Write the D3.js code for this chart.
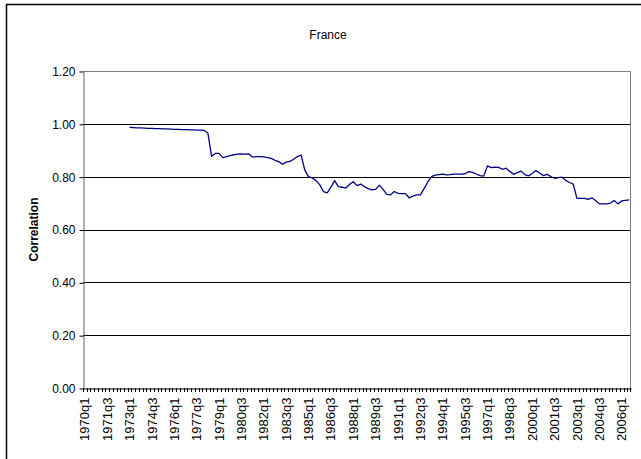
<!DOCTYPE html>
<html lang="en">

<head>
  <meta charset="UTF-8">
  <script src="https://cdn.jsdelivr.net/npm/d3@7"></script>
  <title>France</title>
  <style>
    body {
      margin: 0;
      background: white;
    }

    text {
      font-family: Arial, 'Liberation Sans', sans-serif;
      font-size: 12px;
      fill: black;
    }

    .title {
      text-anchor: middle;
    }

    .label {
      text-anchor: middle;
      font-weight: bold;
    }
  </style>
</head>

<body>
  <script>
    // quarters 1970q1 .. 2006q3
    const years = d3.range(1970, 2007);
    const quarters = ['q1', 'q2', 'q3', 'q4'];
    const categories = years.flatMap(y => quarters.map(q => y + q)).slice(0, 147);

    // series starts at 1973q1
    const firstQuarter = '1973q1';
    const correlation = [
      0.987, 0.986, 0.985, 0.985, 0.984, 0.983, 0.983, 0.982, 0.982, 0.981,
      0.981, 0.980, 0.979, 0.979, 0.978, 0.978, 0.977, 0.977, 0.976, 0.976,
      0.975, 0.965, 0.877, 0.888, 0.888, 0.872, 0.876, 0.880, 0.883, 0.885,
      0.886, 0.885, 0.886, 0.874, 0.876, 0.876, 0.875, 0.872, 0.869, 0.862,
      0.857, 0.847, 0.855, 0.858, 0.866, 0.876, 0.882, 0.825, 0.800, 0.795,
      0.785, 0.770, 0.743, 0.739, 0.760, 0.785, 0.762, 0.760, 0.757, 0.770,
      0.781, 0.766, 0.772, 0.762, 0.755, 0.750, 0.752, 0.768, 0.752, 0.733,
      0.731, 0.744, 0.737, 0.736, 0.736, 0.720, 0.726, 0.731, 0.731, 0.755,
      0.780, 0.800, 0.806, 0.808, 0.810, 0.807, 0.808, 0.810, 0.810, 0.810,
      0.811, 0.819, 0.816, 0.810, 0.804, 0.802, 0.841, 0.834, 0.836, 0.835,
      0.828, 0.832, 0.820, 0.809, 0.815, 0.821, 0.808, 0.803, 0.812, 0.823,
      0.814, 0.804, 0.809, 0.800, 0.794, 0.796, 0.798, 0.786, 0.778, 0.772,
      0.718, 0.718, 0.718, 0.714, 0.720, 0.710, 0.697, 0.697, 0.697, 0.700,
      0.710, 0.697, 0.708, 0.710, 0.712
    ];
    const yTicks = [0, 0.2, 0.4, 0.6, 0.8, 1.0, 1.2];
    const labelEvery = 6;

    const width = 641, height = 459;
    const plotL = 83, plotR = 631, plotT = 71, plotB = 388;

    const svg = d3.select('body').append('svg').attr('width', width).attr('height', height);

    // outer chart frame (runs off the picture on the right and bottom)
    svg.append('rect').attr('x', 6.5).attr('y', 4.5).attr('width', 700).attr('height', 500)
      .attr('fill', 'white').attr('stroke', 'black').attr('stroke-width', 1.5);

    const x = d3.scaleBand().domain(categories).range([plotL, plotR]).padding(0);
    const y = d3.scaleLinear().domain([0, 1.2]).range([plotB, plotT]);

    // gridlines
    svg.append('g').selectAll('line').data(yTicks.slice(1, -1)).enter().append('line')
      .attr('x1', plotL).attr('x2', plotR)
      .attr('y1', d => Math.round(y(d)) + 0.5).attr('y2', d => Math.round(y(d)) + 0.5)
      .attr('stroke', 'black').attr('stroke-width', 1);

    // plot area border top/right
    svg.append('path')
      .attr('d', `M${plotL},${plotT + 0.5}H${plotR - 0.5}V${plotB}`)
      .attr('fill', 'none').attr('stroke', '#808080').attr('stroke-width', 1);

    // y axis
    const axisY = d3.axisLeft(y).tickValues(yTicks).tickFormat(d3.format('.2f'))
      .tickSize(4).tickPadding(4).tickSizeOuter(0);
    const gy = svg.append('g').attr('transform', `translate(${plotL + 0.5},0.5)`).call(axisY);
    gy.select('.domain').attr('stroke', '#606060');
    gy.selectAll('.tick line').attr('stroke', 'black');
    gy.selectAll('.tick text').style('font-size', '12px').attr('fill', 'black');

    // x axis labels
    const axisX = d3.axisBottom(x)
      .tickValues(categories.filter((d, i) => i % labelEvery === 0))
      .tickSize(0).tickSizeOuter(0);
    const gx = svg.append('g').attr('transform', `translate(0,${plotB + 0.5})`).call(axisX);
    gx.select('.domain').attr('stroke', 'black');
    gx.selectAll('.tick text')
      .attr('transform', 'rotate(-90)')
      .attr('x', -9).attr('y', 0).attr('dy', '0.35em')
      .attr('text-anchor', 'end')
      .style('font-size', '13px').attr('fill', 'black');

    // x tick marks at category boundaries
    svg.append('g').selectAll('line').data(categories.concat(['end'])).enter().append('line')
      .attr('x1', d => d === 'end' ? plotR - 0.5 : Math.round(x(d)) + 0.5)
      .attr('x2', d => d === 'end' ? plotR - 0.5 : Math.round(x(d)) + 0.5)
      .attr('y1', plotB).attr('y2', plotB + 4)
      .attr('stroke', 'black').attr('stroke-width', 1);

    // series
    const start = categories.indexOf(firstQuarter);
    const series = correlation.map((v, i) => ({ q: categories[start + i], v: v }));
    const line = d3.line().x(d => x(d.q) + x.bandwidth() / 2).y(d => y(d.v));
    svg.append('path').datum(series).attr('d', line)
      .attr('fill', 'none').attr('stroke', '#000080').attr('stroke-width', 1.3)
      .attr('stroke-linejoin', 'round');

    // titles
    svg.append('text').attr('class', 'title').attr('x', 328).attr('y', 39).text('France');
    svg.append('text').attr('class', 'label')
      .attr('transform', `translate(${38},${(plotT + plotB) / 2}) rotate(-90)`)
      .text('Correlation');
  </script>
</body>

</html>
